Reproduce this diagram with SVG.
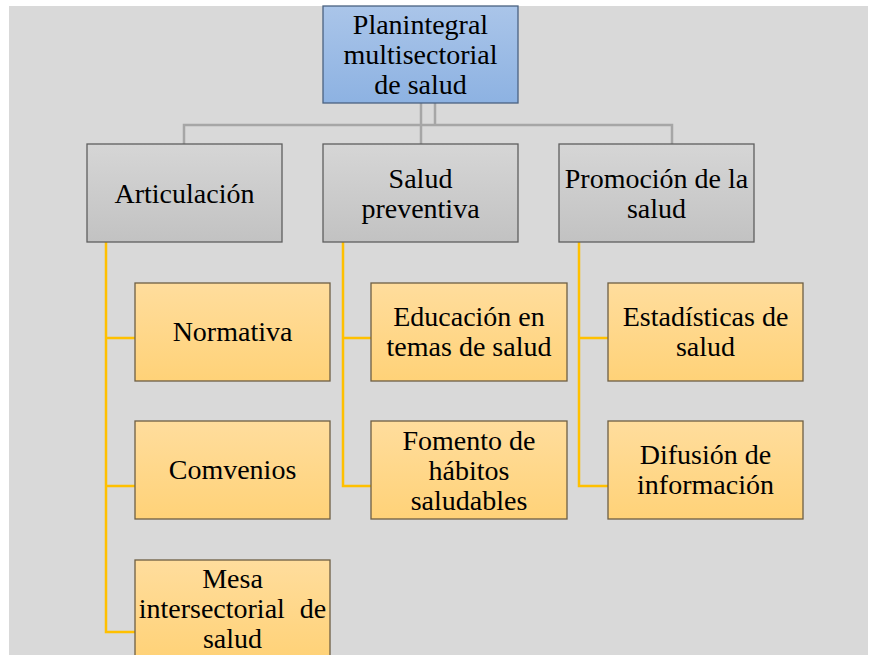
<svg xmlns="http://www.w3.org/2000/svg" width="870" height="655" viewBox="0 0 870 655">
<defs>
<linearGradient id="gBlue" x1="0" y1="0" x2="0" y2="1"><stop offset="0" stop-color="#aac5e9"/><stop offset="1" stop-color="#8db2e2"/></linearGradient>
<linearGradient id="gGray" x1="0" y1="0" x2="0" y2="1"><stop offset="0" stop-color="#d6d6d6"/><stop offset="1" stop-color="#c2c2c2"/></linearGradient>
<linearGradient id="gOrange" x1="0" y1="0" x2="0" y2="1"><stop offset="0" stop-color="#ffdd9d"/><stop offset="1" stop-color="#ffd278"/></linearGradient>
</defs>
<style>
text{font-size:28px;fill:#000;text-anchor:middle}
.blue{fill:url(#gBlue);stroke:#4a6281;stroke-width:1.3}
.gray{fill:url(#gGray);stroke:#5f5f5f;stroke-width:1.3}
.org{fill:url(#gOrange);stroke:#6e5f44;stroke-width:1.3}
.cg{fill:none;stroke:#a6a6a6;stroke-width:2.5}
.cy{fill:none;stroke:#ffc000;stroke-width:2.5}
</style>
<rect x="9" y="6" width="859" height="649" fill="#d9d9d9"/>
<g id="connectors">
<path class="cg" d="M421 103V144M435 103V125M184 144V125H672V144"/>
<path class="cy" d="M106 242V632H135M106 338H135M106 486H135"/>
<path class="cy" d="M343 242V486H371M343 338H371"/>
<path class="cy" d="M579 242V486H608M579 338H608"/>
</g>
<g id="nodes" font-family="Liberation Serif, Times New Roman, serif">
<g id="n-plan"><rect class="blue" x="323" y="6" width="195" height="97"/>
<text x="420.5" y="34">Planintegral</text><text x="420.5" y="64">multisectorial</text><text x="420.5" y="94">de salud</text></g>
<g id="n-articulacion"><rect class="gray" x="87" y="144" width="195" height="98"/>
<text x="184.5" y="203">Articulación</text></g>
<g id="n-salud-preventiva"><rect class="gray" x="323" y="144" width="195" height="98"/>
<text x="420.5" y="188">Salud</text><text x="420.5" y="218">preventiva</text></g>
<g id="n-promocion"><rect class="gray" x="559" y="144" width="195" height="98"/>
<text x="656.5" y="188">Promoción de la</text><text x="656.5" y="218">salud</text></g>
<g id="n-normativa"><rect class="org" x="135" y="283" width="195" height="98"/>
<text x="232.5" y="341">Normativa</text></g>
<g id="n-comvenios"><rect class="org" x="135" y="421" width="195" height="98"/>
<text x="232.5" y="479">Comvenios</text></g>
<g id="n-mesa"><rect class="org" x="135" y="560" width="195" height="98"/>
<text x="232.5" y="588">Mesa</text><text x="232.5" y="618" word-spacing="8">intersectorial de</text><text x="232.5" y="648">salud</text></g>
<g id="n-educacion"><rect class="org" x="371" y="283" width="196" height="98"/>
<text x="469" y="326">Educación en</text><text x="469" y="356">temas de salud</text></g>
<g id="n-fomento"><rect class="org" x="371" y="421" width="196" height="98"/>
<text x="469" y="450">Fomento de</text><text x="469" y="480">hábitos</text><text x="469" y="510">saludables</text></g>
<g id="n-estadisticas"><rect class="org" x="608" y="283" width="195" height="98"/>
<text x="705.5" y="326">Estadísticas de</text><text x="705.5" y="356">salud</text></g>
<g id="n-difusion"><rect class="org" x="608" y="421" width="195" height="98"/>
<text x="705.5" y="464">Difusión de</text><text x="705.5" y="494">información</text></g>
</g>
</svg>
